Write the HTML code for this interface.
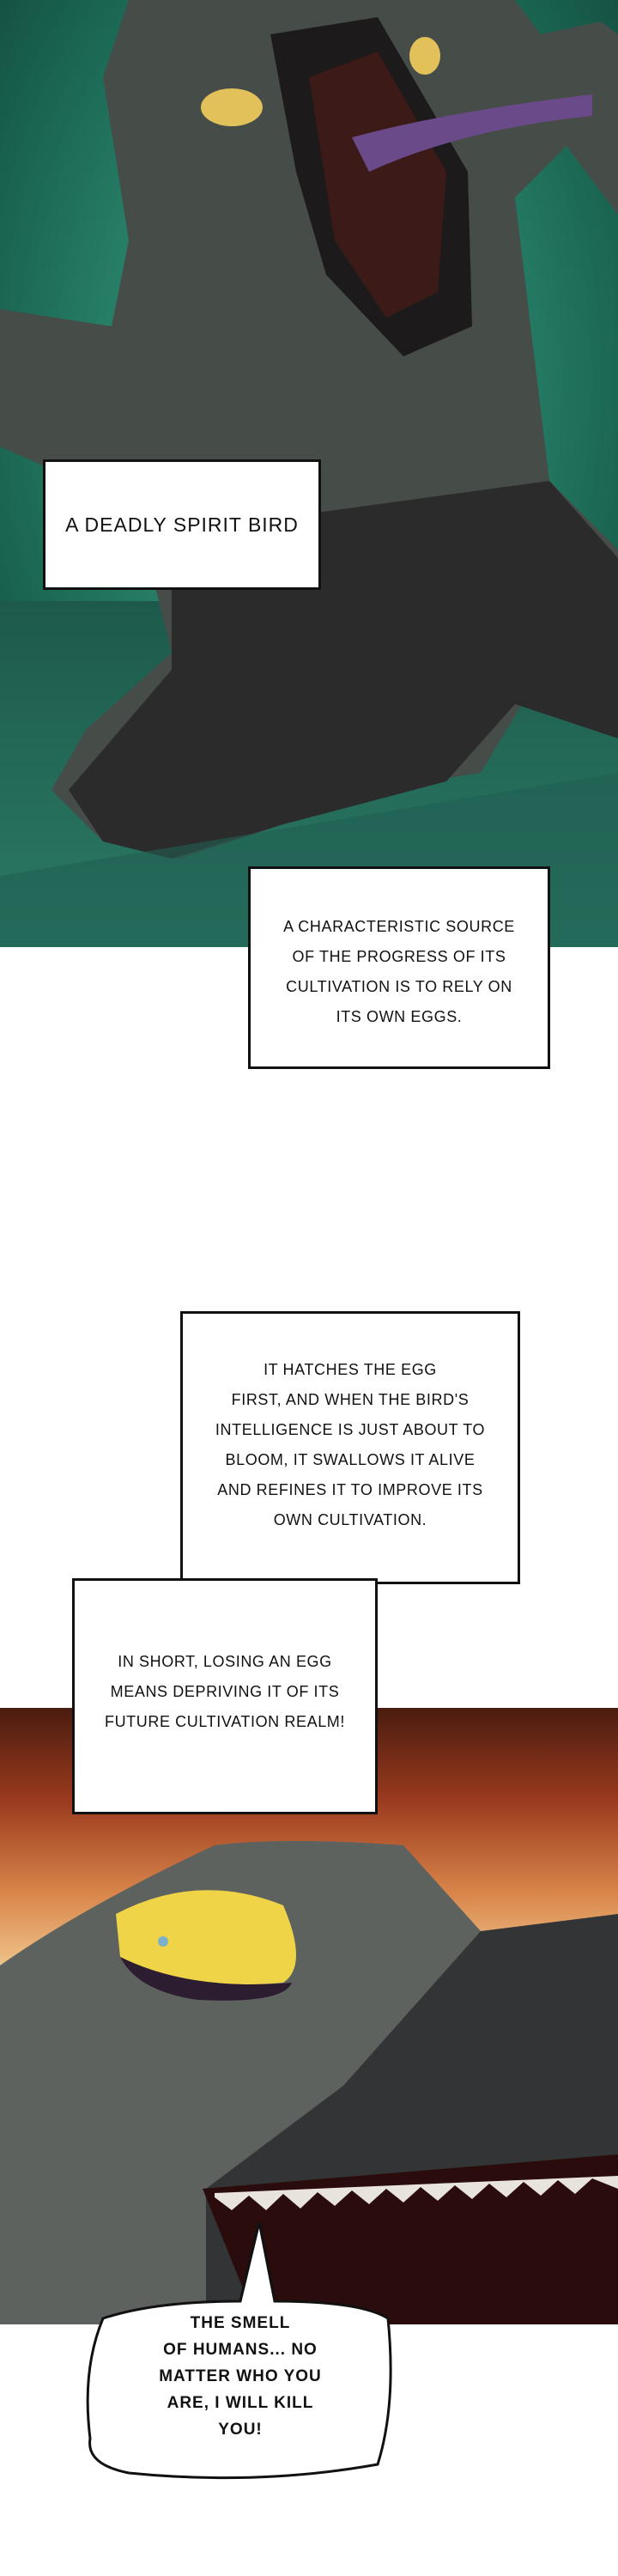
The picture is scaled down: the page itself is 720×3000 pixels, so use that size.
<!DOCTYPE html>
<html><head><meta charset="utf-8"><style>
html,body{margin:0;padding:0;background:#fff;}
body{width:720px;height:3000px;position:relative;overflow:hidden;font-family:"Liberation Sans",sans-serif;}
.box{position:absolute;background:#fff;border:3px solid #111;box-sizing:border-box;display:flex;align-items:center;justify-content:center;text-align:center;color:#111;font-size:18px;line-height:35px;letter-spacing:0.6px;}
svg{position:absolute;left:0;}
</style></head><body>
<svg style="top:0" width="720" height="1103" viewBox="0 0 720 1103">
<defs>
<radialGradient id="g1" cx="0.5" cy="0.4" r="0.8"><stop offset="0" stop-color="#3fa88a"/><stop offset="0.6" stop-color="#1c6a56"/><stop offset="1" stop-color="#0e3b33"/></radialGradient>
<linearGradient id="fl" x1="0" y1="0" x2="0" y2="1"><stop offset="0" stop-color="#1d5a4c"/><stop offset="1" stop-color="#2c7a66"/></linearGradient>
</defs>
<rect width="720" height="1103" fill="url(#g1)"/>
<rect y="700" width="720" height="403" fill="url(#fl)"/>
<path d="M0 360 L130 380 L150 280 L120 90 L150 0 L600 0 L630 40 L700 25 L720 40 L720 250 L660 170 L600 230 L640 560 L720 640 L720 860 L620 800 L560 900 L430 920 L330 960 L210 1000 L120 980 L60 920 L100 850 L200 760 L170 640 L90 560 L0 520 Z" fill="#464c48"/>
<path d="M200 620 L640 560 L720 650 L720 860 L600 820 L520 910 L330 960 L200 1000 L120 980 L80 920 L200 780 Z" fill="#2b2b2b"/>
<path d="M315 40 L440 20 L545 200 L550 380 L470 415 L380 320 L345 200 Z" fill="#1c1a1a"/>
<path d="M360 90 L440 60 L520 200 L510 340 L450 370 L390 280 Z" fill="#3b1a18"/>
<path d="M410 160 Q520 130 690 110 L690 135 Q540 150 430 200 Z" fill="#6b4a8a"/>
<ellipse cx="270" cy="125" rx="36" ry="22" fill="#e3c15a"/>
<ellipse cx="495" cy="65" rx="18" ry="22" fill="#e3c15a"/>
<path d="M0 1020 L720 900 L720 1103 L0 1103 Z" fill="#1f5f52" opacity="0.6"/>
</svg>
<div class="box" style="left:50px;top:535px;width:324px;height:152px;font-size:23px;letter-spacing:1px;">A DEADLY SPIRIT BIRD</div>
<div class="box" style="left:289px;top:1009px;width:352px;height:236px;padding-top:10px;">A CHARACTERISTIC SOURCE<br>OF THE PROGRESS OF ITS<br>CULTIVATION IS TO RELY ON<br>ITS OWN EGGS.</div>

<svg style="top:1989px" width="720" height="718" viewBox="0 0 720 718">
<defs><linearGradient id="fi" x1="0" y1="0" x2="0" y2="1"><stop offset="0" stop-color="#4a1c10"/><stop offset="0.15" stop-color="#9a3a1e"/><stop offset="0.3" stop-color="#d9854a"/><stop offset="0.45" stop-color="#f3d39a"/><stop offset="0.6" stop-color="#faf0c8"/></linearGradient></defs>
<rect width="720" height="718" fill="url(#fi)"/>
<path d="M0 300 Q100 230 250 160 Q330 150 470 160 L560 260 L720 260 L720 718 L0 718 Z" fill="#5e625e"/>
<path d="M560 260 L720 240 L720 718 L240 718 L240 560 L400 440 Z" fill="#323436"/>
<path d="M236 560 L720 520 L720 718 L300 718 Z" fill="#2a0c0c"/>
<path d="M250 570 L270 585 L290 568 L310 585 L330 566 L350 583 L370 564 L390 580 L410 562 L430 578 L450 560 L470 576 L490 558 L510 574 L530 556 L550 572 L570 554 L590 570 L610 552 L630 568 L650 550 L670 566 L690 548 L720 560 L720 545 L250 565 Z" fill="#e8e4dc"/>
<path d="M135 240 Q230 190 330 230 Q360 300 330 320 Q220 330 140 290 Z" fill="#f0d448"/>
<path d="M140 290 Q220 330 340 320 Q330 345 230 340 Q160 330 140 290Z" fill="#2c1e30"/>
<circle cx="190" cy="272" r="6" fill="#7ab0c8"/>
</svg>
<div class="box" style="left:210px;top:1527px;width:396px;height:318px;align-items:flex-start;padding-top:48px;">IT HATCHES THE EGG<br>FIRST, AND WHEN THE BIRD'S<br>INTELLIGENCE IS JUST ABOUT TO<br>BLOOM, IT SWALLOWS IT ALIVE<br>AND REFINES IT TO IMPROVE ITS<br>OWN CULTIVATION.</div>
<div class="box" style="left:84px;top:1838px;width:356px;height:275px;padding-bottom:10px;">IN SHORT, LOSING AN EGG<br>MEANS DEPRIVING IT OF ITS<br>FUTURE CULTIVATION REALM!</div>

<svg style="top:2570px" width="720" height="330" viewBox="0 2570 720 330">
<path d="M120 2700 Q180 2680 280 2680 L302 2588 L320 2680 Q420 2680 452 2700 Q462 2800 440 2870 Q300 2895 150 2880 Q100 2870 105 2840 Q95 2760 120 2700 Z" fill="#fff" stroke="#111" stroke-width="3"/>
</svg>
<div style="position:absolute;left:120px;top:2690px;width:320px;text-align:center;font-size:19px;line-height:31px;font-weight:bold;color:#111;letter-spacing:1px;">THE SMELL<br>OF HUMANS... NO<br>MATTER WHO YOU<br>ARE, I WILL KILL<br>YOU!</div>
</body></html>
